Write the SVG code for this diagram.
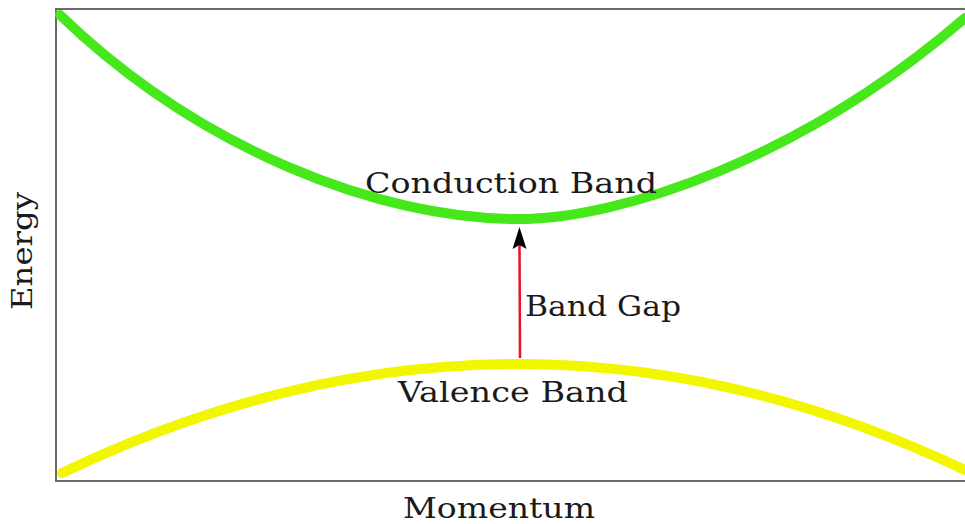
<svg xmlns="http://www.w3.org/2000/svg" width="965" height="524" viewBox="0 0 965 524">
<style>
.lbl{font-family:"DejaVu Serif","Liberation Serif",serif;font-size:27px;fill:#1a1a1a}
.band{fill:none;stroke-width:10;stroke-linecap:round}
</style>
<defs>
<marker id="ah" markerWidth="22" markerHeight="16" refX="4" refY="8" orient="auto" markerUnits="userSpaceOnUse" viewBox="0 0 22 16">
<path d="M22,8 L0,15 L4,8 L0,1 Z" fill="#000"/>
</marker>
</defs>
<rect width="965" height="524" fill="#fff"/>
<g id="axes">
<path d="M965,9 H56 V481 H965" fill="none" stroke="#6a6a6a" stroke-width="2"/>
</g>
<g id="conduction-band">
<path class="band" stroke="#46e81c" d="M60,15 C200,150 380,219 518,219 C620,219 800,160 965,18"/>
<text class="lbl" x="365" y="193" textLength="292" lengthAdjust="spacingAndGlyphs">Conduction Band</text>
</g>
<g id="valence-band">
<path class="band" stroke="#f2f700" d="M62,473 Q290,364 518,364 Q741.5,364 965,470"/>
<text class="lbl" x="398" y="402" textLength="230" lengthAdjust="spacingAndGlyphs">Valence Band</text>
</g>
<g id="connectors">
<line x1="520" y1="358" x2="519.5" y2="245" stroke="#e8102a" stroke-width="2.5" marker-end="url(#ah)"/>
</g>
<g id="band-gap-label">
<text class="lbl" x="525" y="316" textLength="156" lengthAdjust="spacingAndGlyphs">Band Gap</text>
</g>
<g id="x-axis-label">
<text class="lbl" x="403" y="518" textLength="192" lengthAdjust="spacingAndGlyphs">Momentum</text>
</g>
<g id="y-axis-label">
<text class="lbl" transform="translate(32,310) rotate(-90)" x="0" y="0" textLength="118" lengthAdjust="spacingAndGlyphs">Energy</text>
</g>
</svg>
